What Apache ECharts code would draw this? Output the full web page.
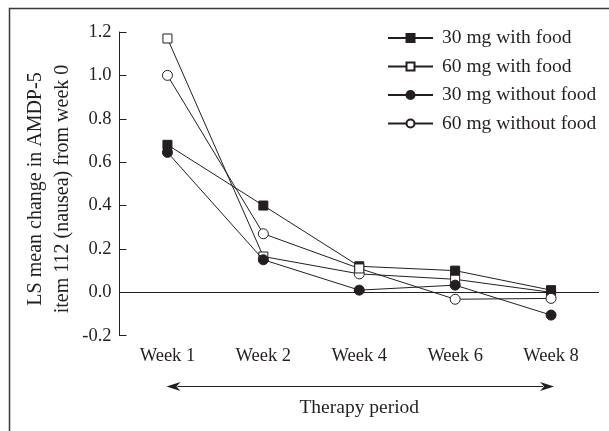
<!DOCTYPE html>
<html>
<head>
<meta charset="utf-8">
<script src="https://cdn.jsdelivr.net/npm/echarts@6/dist/echarts.min.js"></script>
<style>
html,body{margin:0;padding:0;background:#fff;}
#chart{width:609px;height:431px;}
</style>
</head>
<body>
<div id="chart"></div>
<script>
var categories = ['Week 1', 'Week 2', 'Week 4', 'Week 6', 'Week 8'];
var mg30Food = [0.68, 0.40, 0.12, 0.10, 0.01];
var mg60Food = [1.17, 0.165, 0.085, 0.06, 0.0];
var mg30NoFood = [0.645, 0.15, 0.01, 0.033, -0.105];
var mg60NoFood = [1.00, 0.27, 0.11, -0.032, -0.028];
var seriesNames = ['30 mg with food', '60 mg with food', '30 mg without food', '60 mg without food'];
var yTicks = [-0.2, 0.0, 0.2, 0.4, 0.6, 0.8, 1.0, 1.2];
var yTitle = 'LS mean change in AMDP-5\nitem 112 (nausea) from week 0';
var xTitle = 'Therapy period';

var FONT = '"Liberation Serif", "DejaVu Serif", serif';
var INK = '#231f20';

var chart = echarts.init(document.getElementById('chart'), null, {renderer: 'canvas'});

function mk(name, data, symbol, filled, size, z, overrides) {
  return {
    name: name,
    type: 'line',
    data: data.map(function (v, i) {
      var item = {value: v};
      if (overrides && overrides[i]) {
        item.symbol = overrides[i].symbol;
        item.symbolSize = overrides[i].size;
      }
      return item;
    }),
    symbol: symbol,
    symbolSize: size,
    showSymbol: true,
    z: z,
    lineStyle: {color: INK, width: 1},
    itemStyle: {color: filled ? INK : '#fff', borderColor: INK, borderWidth: 1},
    emphasis: {disabled: true},
    animation: false
  };
}

var s60F = mk(seriesNames[1], mg60Food, 'rect', false, 9, 2, {2: {symbol: 'circle', size: 10}});
s60F.markLine = {
  silent: true,
  symbol: ['none', 'none'],
  label: {show: false},
  lineStyle: {color: INK, width: 1, type: 'solid'},
  data: [{yAxis: 0}],
  animation: false
};

var option = {
  backgroundColor: '#fff',
  animation: false,
  grid: {left: 119.5, right: 10, top: 32, bottom: 95.3, containLabel: false},
  legend: {
    data: seriesNames,
    orient: 'vertical',
    left: 387,
    top: 28,
    padding: 0,
    itemWidth: 45,
    itemHeight: 10,
    itemGap: 8.5,
    textStyle: {fontFamily: FONT, fontSize: 19.5, color: INK, lineHeight: 20, padding: [0, 0, 0, 4]},
    selectedMode: false
  },
  xAxis: {
    type: 'category',
    data: categories,
    boundaryGap: true,
    axisLine: {show: false, onZero: false},
    axisTick: {show: false},
    axisLabel: {fontFamily: FONT, fontSize: 18.5, color: INK, margin: 11}
  },
  yAxis: {
    type: 'value',
    min: yTicks[0],
    max: yTicks[yTicks.length - 1],
    interval: 0.2,
    axisLine: {show: true, lineStyle: {color: INK, width: 1}},
    axisTick: {show: true, inside: true, length: 7, lineStyle: {color: INK, width: 1}},
    splitLine: {show: false},
    axisLabel: {
      fontFamily: FONT, fontSize: 18.5, color: INK, margin: 8,
      formatter: function (v) { return (Math.round(v * 10) / 10).toFixed(1); }
    }
  },
  series: [
    s60F,
    mk(seriesNames[0], mg30Food, 'rect', true, 9, 3),
    mk(seriesNames[3], mg60NoFood, 'circle', false, 10, 4, {2: {symbol: 'rect', size: 9}}),
    mk(seriesNames[2], mg30NoFood, 'circle', true, 10, 5)
  ]
};
chart.setOption(option);

// Annotations positioned from axis scales
var pStart = chart.convertToPixel({xAxisIndex: 0}, categories[0]);
var pEnd = chart.convertToPixel({xAxisIndex: 0}, categories[categories.length - 1]);
var arrowY = 386.5;
var x1 = pStart - 1, x2 = pEnd + 3;
var ah = 14, aw = 4.5;
chart.setOption({
  graphic: [
    {type: 'rect', shape: {x: 9.5, y: 8.5, width: 800, height: 600},
     style: {fill: 'none', stroke: '#3a3a3a', lineWidth: 1.5}, silent: true, z: 0},
    {type: 'text', x: 49.5, y: 189, rotation: Math.PI / 2,
     style: {text: yTitle, fontFamily: FONT, fontSize: 20, fill: INK, align: 'center', verticalAlign: 'middle', lineHeight: 27}},
    {type: 'line', shape: {x1: x1 + ah - 3, y1: arrowY, x2: x2 - ah + 3, y2: arrowY},
     style: {stroke: INK, lineWidth: 1.2}},
    {type: 'polygon', shape: {points: [[x1, arrowY], [x1 + ah, arrowY - aw], [x1 + ah - 4, arrowY], [x1 + ah, arrowY + aw]]},
     style: {fill: INK}},
    {type: 'polygon', shape: {points: [[x2, arrowY], [x2 - ah, arrowY - aw], [x2 - ah + 4, arrowY], [x2 - ah, arrowY + aw]]},
     style: {fill: INK}},
    {type: 'text', x: (pStart + pEnd) / 2, y: 408,
     style: {text: xTitle, fontFamily: FONT, fontSize: 19.5, fill: INK, align: 'center', verticalAlign: 'middle'}}
  ]
});
</script>
</body>
</html>
